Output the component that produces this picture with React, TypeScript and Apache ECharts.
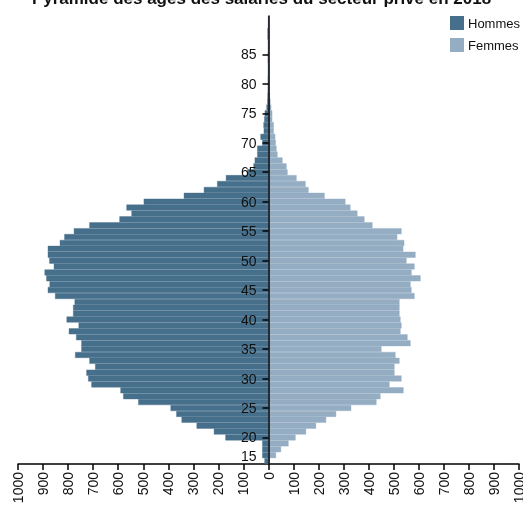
import React, { useEffect, useRef } from "react";
import * as echarts from "echarts";

const ages: number[] = [];
for (let a = 16; a <= 91; a++) ages.push(a);

const hommes = [
  16, 25, 25, 25, 172, 218, 287, 347, 368, 391,
  520, 580, 591, 707, 720, 727, 692, 715, 772, 747,
  747, 768, 797, 758, 806, 780, 780, 774, 852, 881,
  874, 887, 894, 857, 875, 881, 881, 833, 815, 777,
  715, 595, 547, 567, 498, 338, 258, 205, 170, 85,
  60, 55, 45, 45, 25, 32, 19, 20, 17, 15,
  8, 5, 4, 3, 3, 3, 2, 2, 3, 3,
  2, 2, 4, 4, 1, 1,
];

const femmes = [
  5, 30, 50, 80, 108, 150, 190, 230, 270, 330,
  431, 447, 539, 483, 531, 503, 503, 523, 507, 451,
  567, 555, 527, 531, 527, 523, 523, 523, 583, 571,
  567, 607, 571, 583, 551, 587, 538, 542, 514, 531,
  415, 383, 355, 327, 307, 224, 160, 148, 112, 76,
  72, 56, 36, 32, 29, 27, 21, 21, 15, 15,
  11, 8, 5, 4, 3, 3, 2, 2, 2, 2,
  1, 1, 1, 1, 1, 1,
];

const titleText = "Pyramide des âges des salariés du secteur privé en 2018";
const FONT = "'Liberation Sans', Arial, sans-serif";
const HOMMES_COLOR = "#466f8c";
const FEMMES_COLOR = "#94adc3";

const GRID_LEFT = 18;
const GRID_WIDTH = 501;

export default function App() {
  const ref = useRef<HTMLDivElement>(null);
  useEffect(() => {
    if (!ref.current) return;
    const chart = echarts.init(ref.current, undefined, { renderer: "svg" });
    const isTick = (i: number) => {
      const a = ages[i];
      return a % 5 === 0 && a >= 20 && a <= 85;
    };
    chart.setOption({
      animation: false,
      textStyle: { fontFamily: FONT },
      title: {
        text: titleText,
        left: "center",
        top: -15,
        textStyle: { fontFamily: FONT, fontSize: 17, fontWeight: "bold", color: "#111" },
      },
      legend: {
        orient: "vertical",
        right: -2,
        top: 11,
        itemWidth: 12,
        itemHeight: 12,
        itemGap: 8,
        icon: "rect",
        textStyle: { fontFamily: FONT, fontSize: 13, color: "#111" },
        data: ["Hommes", "Femmes"],
      },
      grid: {
        left: GRID_LEFT,
        width: GRID_WIDTH,
        top: 16,
        bottom: 41,
        containLabel: false,
        outerBoundsMode: "none",
      },
      xAxis: {
        type: "value",
        min: -1000,
        max: 1000,
        interval: 100,
        splitLine: { show: false },
        axisLine: { show: true, lineStyle: { color: "#000", width: 1.5 } },
        axisTick: { show: true, length: 6, lineStyle: { color: "#000", width: 1.5 } },
        axisLabel: {
          rotate: 90,
          margin: 8,
          fontSize: 14,
          color: "#111",
          fontFamily: FONT,
          hideOverlap: false,
          showMinLabel: true,
          showMaxLabel: true,
          formatter: (v: number) => String(Math.abs(v)),
        },
      },
      yAxis: {
        type: "category",
        data: ages.map(String),
        position: "left",
        offset: -GRID_WIDTH / 2,
        z: 5,
        axisLine: { show: true, onZero: false, lineStyle: { color: "#000", width: 1.5 } },
        axisTick: {
          show: true,
          length: 6,
          alignWithLabel: true,
          interval: (i: number) => isTick(i),
          lineStyle: { color: "#000", width: 1.5 },
        },
        axisLabel: {
          margin: 12,
          fontSize: 14,
          color: "#111",
          fontFamily: FONT,
          interval: (i: number) => isTick(i) || i === 0,
          formatter: (v: string, i: number) => (i === 0 ? "{low|15}" : v),
          rich: {
            low: {
              fontSize: 14,
              color: "#111",
              fontFamily: FONT,
              padding: [0, 0, 10, 0],
            },
          },
        },
        splitLine: { show: false },
      },
      series: [
        {
          name: "Hommes",
          type: "bar",
          stack: "pop",
          barWidth: "100%",
          barCategoryGap: 0,
          itemStyle: { color: HOMMES_COLOR, borderColor: HOMMES_COLOR, borderWidth: 0.4 },
          data: hommes.map((v) => -v),
        },
        {
          name: "Femmes",
          type: "bar",
          stack: "pop",
          barWidth: "100%",
          barCategoryGap: 0,
          itemStyle: { color: FEMMES_COLOR, borderColor: FEMMES_COLOR, borderWidth: 0.4 },
          data: femmes,
        },
      ],
    });
    return () => chart.dispose();
  }, []);
  return (
    <div
      ref={ref}
      style={{ position: "fixed", left: 0, top: 0, width: 523, height: 505 }}
    />
  );
}
